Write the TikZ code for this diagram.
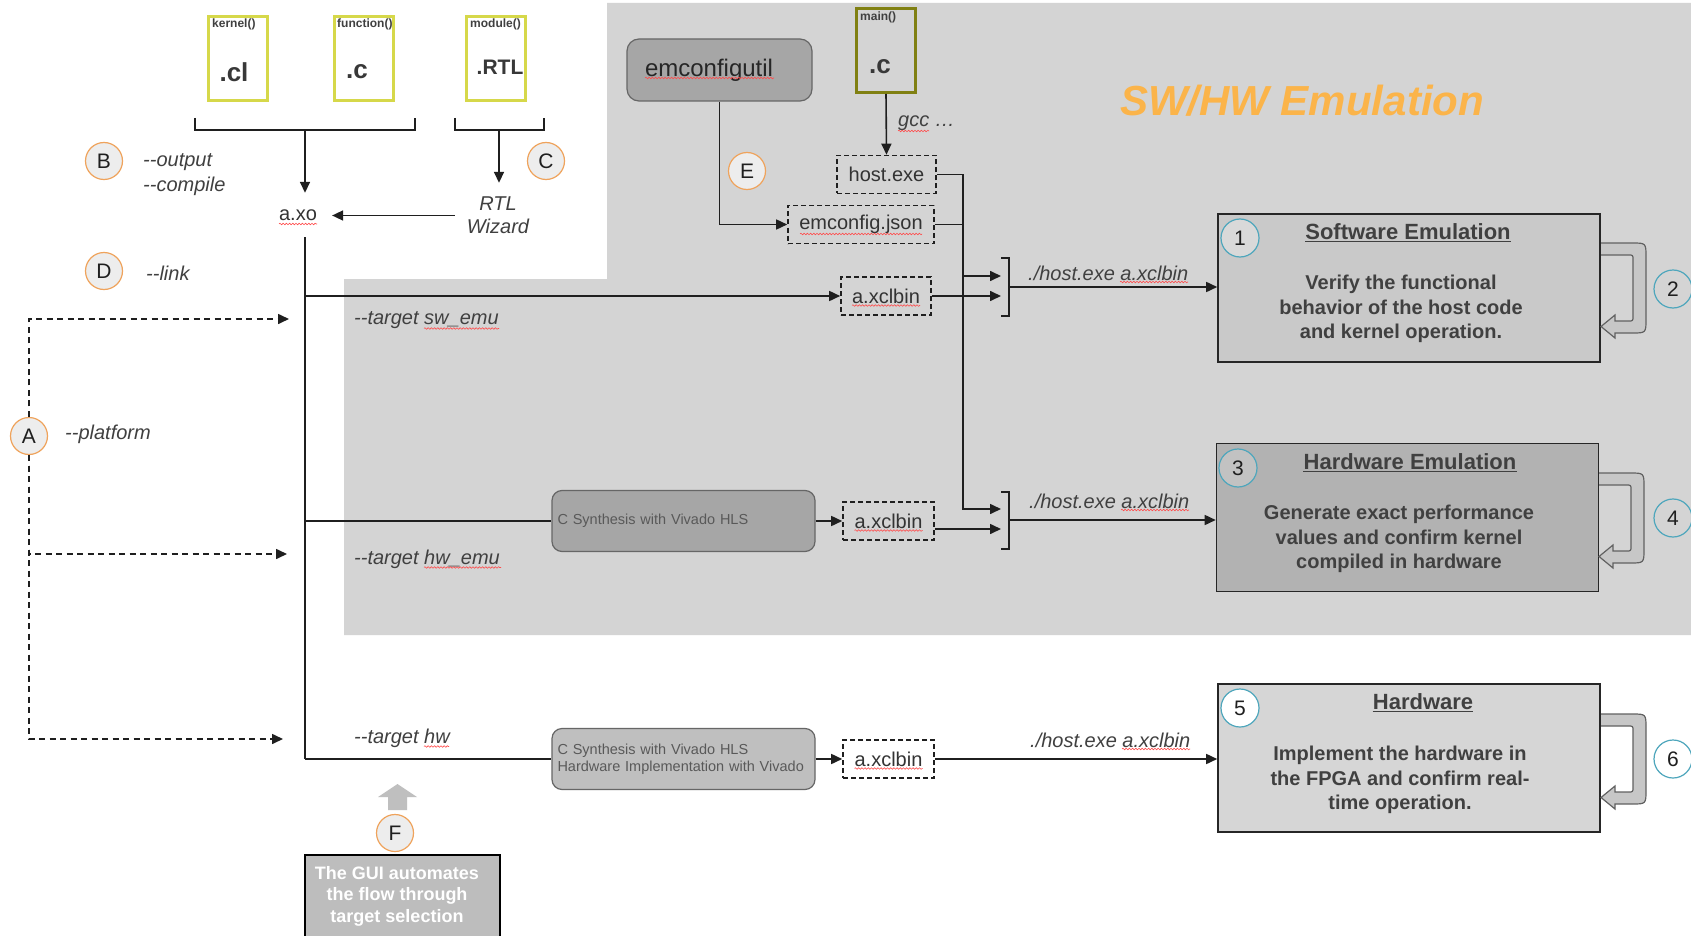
\documentclass[tikz,border=0pt]{standalone}
\usepackage{fontspec}
\setmainfont{Liberation Sans}
\usetikzlibrary{arrows.meta,decorations.pathmorphing}

\definecolor{emugray}{HTML}{D4D4D4}
\definecolor{ink}{HTML}{404040}
\definecolor{srcyellow}{HTML}{D6D84A}
\definecolor{hostolive}{HTML}{808012}
\definecolor{ringorange}{HTML}{EFA35C}
\definecolor{ringteal}{HTML}{4EA6BC}
\definecolor{emutitle}{HTML}{FBB44A}
\definecolor{toolgray}{HTML}{A6A6A6}
\definecolor{implgray}{HTML}{BFBFBF}

\newcommand\setfs[2]{\fontsize{#1}{#2}\selectfont}
\newcommand\dblhyph{-\kern0pt-}

\tikzset{
  loopback/.pic={
    \filldraw[fill=black!22, draw=black!62, line width=1.2pt]
      (0,0) -- (31,0) .. controls (45,0) .. (45,14) -- (45,76)
      .. controls (45,90) .. (31,90) -- (14,90) -- (14,95) -- (0,83.5)
      -- (14,72) -- (14,78) -- (27,78) .. controls (32,78) .. (32,73)
      -- (32,17) .. controls (32,12) .. (27,12) -- (0,12);
  }
}

\begin{document}
\begin{tikzpicture}[x=1pt,y=-1pt,
  wire/.style={draw=black!88, line width=1.6pt},
  arr/.style={wire, -{Triangle[length=11pt,width=10pt]}},
  darr/.style={arr, dash pattern=on 6pt off 4.5pt},
  srcfile/.style={draw=srcyellow, line width=3pt, minimum width=59pt, minimum height=84pt, inner sep=0pt},
  hostfile/.style={srcfile, draw=hostolive},
  tag/.style={font=\setfs{12}{14}\bfseries, text=ink, anchor=west, inner sep=0pt},
  ext/.style={font=\setfs{26}{30}\bfseries, text=black!78, inner sep=0pt},
  letter/.style={circle, draw=ringorange, fill=black!7, line width=1.2pt, minimum size=37pt, inner sep=0pt, font=\setfs{21}{21}, text=black!88},
  num/.style={circle, draw=ringteal, line width=1.2pt, minimum size=38pt, inner sep=0pt, font=\setfs{21}{21}, text=black!88},
  flag/.style={font=\setfs{20}{25}\itshape, text=ink, inner sep=0pt, anchor=west, align=left},
  plain/.style={font=\setfs{20}{24}, text=black!80, inner sep=0pt},
  art/.style={draw=black!88, line width=1.6pt, dash pattern=on 5pt off 3pt, minimum height=38pt, inner sep=0pt, font=\setfs{20}{24}, text=black!80},
  tool/.style={rounded corners=10pt, draw=black!60, line width=1.2pt, minimum width=263pt, minimum height=61pt, text width=252pt, inner xsep=5.5pt, align=left, font=\setfs{14.5}{17.5}, text=black!65},
  stage/.style={draw=black!85, line width=1.6pt, minimum width=382pt, minimum height=148pt, inner sep=0pt},
  stitle/.style={font=\setfs{22}{26}\bfseries, text=ink, inner sep=0pt, anchor=base},
  sbody/.style={font=\setfs{20}{24.5}\bfseries, text=ink, align=center, inner sep=0pt},
  uline/.style={draw=ink, line width=1.4pt},
  squig/.style={draw=red!70, line width=0.6pt, decorate, decoration={snake, amplitude=0.8pt, segment length=3.2pt}}
]
\useasboundingbox (0,0) rectangle (1691,936);
\fill[white] (0,0) rectangle (1691,936);

% emulation area
\fill[emugray] (607,3) -- (1691,3) -- (1691,635) -- (344,635) -- (344,279) -- (607,279) -- cycle;
\node[font=\setfs{42}{48}\bfseries\itshape, text=emutitle, inner sep=0pt] (emtitle) at (1302,101) {SW/HW Emulation};

% source files
\node[srcfile] (kern) at (238,58.5) {};
\node[tag] (kernTag) at (212,24) {kernel()};
\node[ext] (kernExt) at (234,72) {.cl};
\node[srcfile] (func) at (364,58.5) {};
\node[tag] (funcTag) at (337,24) {function()};
\node[ext] (funcExt) at (357,72) {.c};
\node[srcfile] (modl) at (496,58.5) {};
\node[tag] (modlTag) at (470,24) {module()};
\node[ext, font=\setfs{21}{24}\bfseries] (modlExt) at (500,67) {.RTL};
\node[hostfile] (mainc) at (886,50.5) {};
\node[tag] (mainTag) at (860,17) {main()};
\node[ext] (mainExt) at (880,67) {.c};

% compile step
\draw[wire] (195,118) -- (195,130) -- (415,130) -- (415,118);
\draw[wire] (455,118) -- (455,130) -- (544,130) -- (544,118);
\coordinate (br1) at (305,130);
\coordinate (br2) at (499,130);
\node[plain, inner xsep=15pt, minimum height=44pt] (axo) at (298,215) {a.xo};
\node[flag, anchor=center, align=center, font=\setfs{20}{23}\itshape, inner xsep=12pt, inner ysep=14pt] (rtl) at (498,215.5) {RTL\\Wizard};
\draw[arr] (br1) -- (br1 |- axo.north);
\draw[arr] (br2) -- (br2 |- rtl.north);
\draw[arr] (rtl.west) -- (rtl.west -| axo.east);

\node[letter] (B) at (104,161) {B};
\node[flag] (outflag) at (143,175) {\dblhyph output\\\dblhyph compile};
\node[letter] (C) at (546,161) {C};
\node[letter] (D) at (104,271) {D};
\node[flag] (linkflag) at (146,273) {\dblhyph link};
\node[letter] (A) at (29,436) {A};
\node[flag] (platflag) at (65,434) {\dblhyph platform};

% link trunk
\coordinate (trunk) at (305,759);
\draw[wire] (br1 |- axo.south) -- (trunk);

% host side
\node[tool, fill=toolgray, minimum width=185pt, minimum height=62pt, text width=149pt, inner xsep=18pt, rounded corners=12pt, font=\setfs{24}{28}, text=black!85] (emcu) at (719.5,70) {emconfigutil};
\node[art, minimum width=99pt] (host) at (886.5,174.5) {host.exe};
\node[art, minimum width=146pt] (emjson) at (861,224.5) {emconfig.json};
\draw[arr] (mainc.south) -- (host.north);
\node[flag] (gcc) at (898,123) {gcc …};
\draw[arr] (emcu.south) |- (emjson.west);
\node[letter] (E) at (747,171) {E};

% bracket inputs
\coordinate (jx) at (963,0);
\coordinate (swin1) at (1001,276);
\coordinate (swin2) at (1001,296);
\coordinate (hwin1) at (1001,509);
\coordinate (hwin2) at (1001,529);
\coordinate (swbr) at (1009,287);
\coordinate (hwbr) at (1009,520);
\draw[wire] (1001,258) -- (1009,258) -- (1009,316) -- (1001,316);
\draw[wire] (1001,492) -- (1009,492) -- (1009,549) -- (1001,549);
\draw[arr] (host.east) -- (host.east -| jx) |- (hwin1);
\draw[wire] (emjson.east) -- (emjson.east -| jx);
\draw[arr] (swin1 -| jx) -- (swin1);

% software emulation path
\node[art, minimum width=90pt] (swx) at (886,296) {a.xclbin};
\draw[arr] (swx.west -| trunk) -- (swx.west);
\draw[arr] (swx.east) -- (swin2);
\node[flag] (tsw) at (354,320) {\dblhyph target sw\_emu};

% hardware emulation path
\node[tool, fill=toolgray] (hlsA) at (683.5,521) {C Synthesis with Vivado HLS};
\node[art, minimum width=91pt] (hwx2) at (888.5,521) {a.xclbin};
\draw[wire] (hlsA.west -| trunk) -- (hlsA.west);
\draw[arr] (hlsA.east) -- (hwx2.west);
\draw[arr] ([yshift=-8pt]hwx2.east) -- (hwin2);
\node[flag] (themu) at (354,559) {\dblhyph target hw\_emu};

% hardware path
\node[tool, fill=implgray] (hlsB) at (683.5,759) {C Synthesis with Vivado HLS\\Hardware Implementation with Vivado};
\node[art, minimum width=91pt] (hwx3) at (888.5,759) {a.xclbin};
\draw[wire] (trunk) -- (hlsB.west);
\draw[arr] (hlsB.east) -- (hwx3.west);
\node[flag] (thw) at (354,738) {\dblhyph target hw};

% platform selection
\coordinate (dA1) at (289,319);
\coordinate (dA2) at (287,554);
\coordinate (dA3) at (283,739);
\draw[darr] (A.north) |- (dA1);
\draw[darr] (A.south) |- (dA2);
\draw[darr] (A.south) |- (dA3);

% run stages
\node[stage, fill=black!21] (swbox) at (1409,288) {};
\node[stage, fill=black!30] (hwemubox) at (1407.5,517.5) {};
\node[stage, fill=black!16] (hwbox) at (1409,758) {};

\draw[arr] (swbr) -- (swbr -| swbox.west);
\draw[arr] (hwbr) -- (hwbr -| hwemubox.west);
\draw[arr] (hwx3.east) -- (hwx3.east -| hwbox.west);

\node[flag] (swrun) at (1028,273) {./host.exe a.xclbin};
\node[flag] (hwemurun) at (1029,501) {./host.exe a.xclbin};
\node[flag] (hwrun) at (1030,740) {./host.exe a.xclbin};

\node[stitle] (swt) at (1408,239.5) {Software Emulation};
\draw[uline] ([yshift=-2.2pt]swt.base west) -- ([yshift=-2.2pt]swt.base east);
\node[sbody] (swBody) at (1401,309) {Verify the functional\\behavior of the host code\\and kernel operation.};
\node[stitle] (hwemut) at (1410,469.5) {Hardware Emulation};
\draw[uline] ([yshift=-2.2pt]hwemut.base west) -- ([yshift=-2.2pt]hwemut.base east);
\node[sbody] (hwemuBody) at (1399,539) {Generate exact performance\\values and confirm kernel\\compiled in hardware};
\node[stitle] (hwt) at (1423,709.5) {Hardware};
\draw[uline] ([yshift=-2.2pt]hwt.base west) -- ([yshift=-2.2pt]hwt.base east);
\node[sbody] (hwBody) at (1400,780) {Implement the hardware in\\the FPGA and confirm real-\\time operation.};

\pic at (1601,243) {loopback};
\pic at (1599,473) {loopback};
\pic at (1601,714) {loopback};

\node[num, fill=black!15] (n1) at (1240,238) {1};
\node[num, fill=emugray] (n2) at (1673,289) {2};
\node[num, fill=black!24] (n3) at (1238,468) {3};
\node[num, fill=emugray] (n4) at (1673,518) {4};
\node[num, fill=white] (n5) at (1240,708) {5};
\node[num, fill=white] (n6) at (1673,759) {6};

% GUI note
\fill[implgray] (388,810) -- (388,797) -- (378,797) -- (397.5,784) -- (417,797) -- (407,797) -- (407,810) -- cycle;
\node[letter] (F) at (395,833) {F};
\node[draw=black, line width=2.2pt, fill=black!26, minimum width=195pt, minimum height=90pt] (gui) at (402.5,900) {};
\node[font=\setfs{18}{21.5}\bfseries, text=white, align=center, inner sep=0pt] (guiText) at (397,896) {The GUI automates\\the flow through\\target selection};

% spell-check marks
\draw[squig] ([xshift=-19pt,yshift=-9pt]axo.center) -- ([xshift=19pt,yshift=-9pt]axo.center);
\draw[squig] (645,78) -- (774,78);
\draw[squig] ([yshift=-8pt]gcc.west) -- ([xshift=31pt,yshift=-8pt]gcc.west);
\draw[squig] ([xshift=-61pt,yshift=-9.5pt]emjson.center) -- ([xshift=61pt,yshift=-9.5pt]emjson.center);
\foreach \n in {swx,hwx2,hwx3}
  \draw[squig] ([xshift=-34pt,yshift=-9.5pt]\n.center) -- ([xshift=34pt,yshift=-9.5pt]\n.center);
\foreach \n in {swrun,hwemurun,hwrun}
  \draw[squig] ([xshift=92pt,yshift=-9pt]\n.west) -- ([xshift=160pt,yshift=-9pt]\n.west);
\draw[squig] ([xshift=70pt,yshift=-8.5pt]tsw.west) -- ([xshift=145pt,yshift=-8.5pt]tsw.west);
\draw[squig] ([xshift=70pt,yshift=-8.5pt]themu.west) -- ([xshift=147pt,yshift=-8.5pt]themu.west);
\draw[squig] ([xshift=70pt,yshift=-8.5pt]thw.west) -- ([xshift=95pt,yshift=-8.5pt]thw.west);
\end{tikzpicture}
\end{document}
